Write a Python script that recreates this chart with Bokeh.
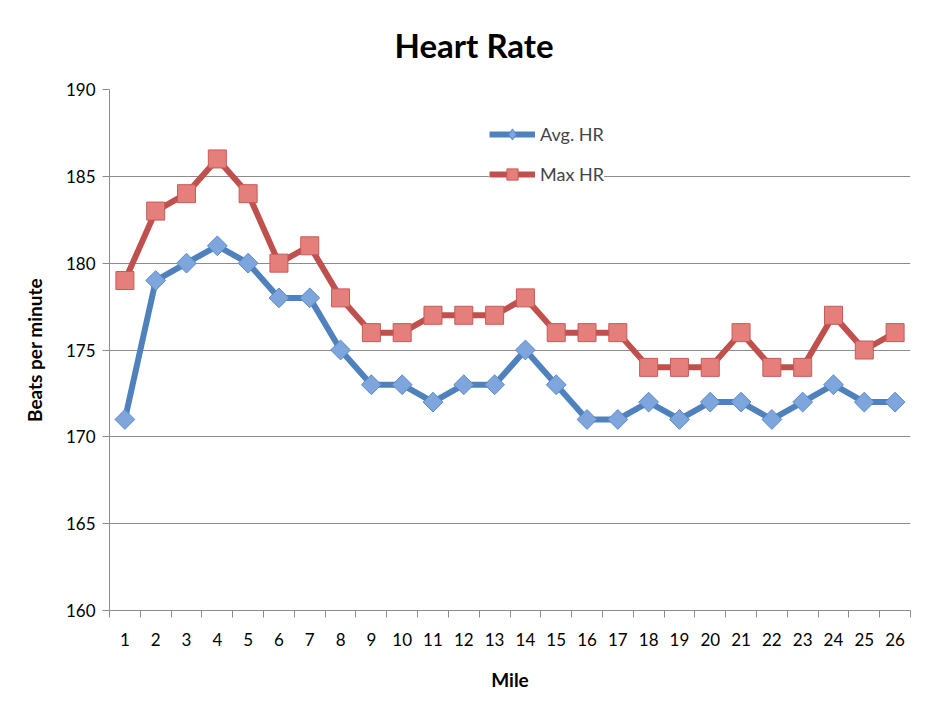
from bokeh.plotting import figure
from bokeh.models import Range1d, FixedTicker, ColumnDataSource, Legend, LegendItem
from bokeh.embed import file_html
from bokeh.resources import INLINE

miles = list(range(1, 27))
avg_hr = [171, 179, 180, 181, 180, 178, 178, 175, 173, 173, 172, 173, 173,
          175, 173, 171, 171, 172, 171, 172, 172, 171, 172, 173, 172, 172]
max_hr = [179, 183, 184, 186, 184, 180, 181, 178, 176, 176, 177, 177, 177,
          178, 176, 176, 176, 174, 174, 174, 176, 174, 174, 177, 175, 176]
y_ticks = [160, 165, 170, 175, 180, 185, 190]

FONT = "Lato"
BLUE = "#4F81BD"
BLUE_FILL = "#7EA6DC"
RED = "#C0504D"
RED_FILL = "#E57F7C"

src = ColumnDataSource(dict(mile=miles, avg=avg_hr, mx=max_hr))

p = figure(width=933, height=701, output_backend="svg", toolbar_location=None,
           x_range=Range1d(0.5, 26.5), y_range=Range1d(160, 190),
           min_border_left=109, min_border_right=23, min_border_top=89, min_border_bottom=91)

p.title.text = "Heart Rate"
p.title.align = "left"
p.title.offset = 285
p.title.text_font = FONT
p.title.text_font_size = "33px"
p.title.text_font_style = "bold"
p.title.text_color = "#000000"
p.title.standoff = 46
p.title.vertical_align = "top"
p.title.text_line_height = 0.7

p.outline_line_color = None
p.xgrid.grid_line_color = None
p.ygrid.grid_line_color = "#8C8C8C"
p.ygrid.grid_line_width = 1

# axes
p.xaxis.ticker = FixedTicker(ticks=miles, minor_ticks=[m - 0.5 for m in miles] + [26.5])
p.xaxis.major_tick_out = 0
p.xaxis.major_tick_in = 0
p.xaxis.minor_tick_out = 7
p.xaxis.minor_tick_in = 0
p.xaxis.minor_tick_line_color = "#8C8C8C"
p.xaxis.axis_line_color = "#8C8C8C"
p.xaxis.major_label_standoff = 15
p.xaxis.axis_label = "Mile"
p.xaxis.axis_label_standoff = 19

p.yaxis.ticker = FixedTicker(ticks=y_ticks)
p.yaxis.minor_tick_line_color = None
p.yaxis.major_tick_out = 7
p.yaxis.major_tick_in = 0
p.yaxis.major_tick_line_color = "#8C8C8C"
p.yaxis.axis_line_color = "#8C8C8C"
p.yaxis.major_label_standoff = 7
p.yaxis.axis_label = "Beats per minute"
p.yaxis.axis_label_standoff = 17

for ax in (p.xaxis, p.yaxis):
    ax.major_label_text_font = FONT
    ax.major_label_text_font_size = "17px"
    ax.major_label_text_color = "#000000"
    ax.axis_label_text_font = FONT
    ax.axis_label_text_font_size = "19px"
    ax.axis_label_text_font_style = "bold"
    ax.axis_label_text_color = "#000000"

# series
l1 = p.line("mile", "avg", source=src, line_color=BLUE, line_width=6)
# diamond renderer used for the legend swatch; hidden beneath the data markers
m1_leg = p.scatter("mile", "avg", source=src, marker="diamond", size=0,
                   fill_color=BLUE_FILL, line_color="#5B8AC8", line_width=1)
m1 = p.scatter("mile", "avg", source=src, marker="square", angle=0.7854, size=14,
               fill_color=BLUE_FILL, line_color="#5B8AC8", line_width=1)
l2 = p.line("mile", "mx", source=src, line_color=RED, line_width=6)
m2 = p.scatter("mile", "mx", source=src, marker="square", size=18,
               fill_color=RED_FILL, line_color="#C65A57", line_width=1)

legend = Legend(items=[LegendItem(label="Avg. HR", renderers=[l1, m1_leg]),
                       LegendItem(label="Max HR", renderers=[l2, m2])],
                location=(380, 422), orientation="vertical",
                background_fill_color="white", background_fill_alpha=1,
                border_line_color=None, glyph_width=46, glyph_height=28,
                label_height=28, spacing=12, padding=10, margin=0,
                label_text_font=FONT, label_text_font_size="18px",
                label_standoff=5)
p.add_layout(legend, "center")

open("out.html", "w").write(file_html(p, INLINE))
